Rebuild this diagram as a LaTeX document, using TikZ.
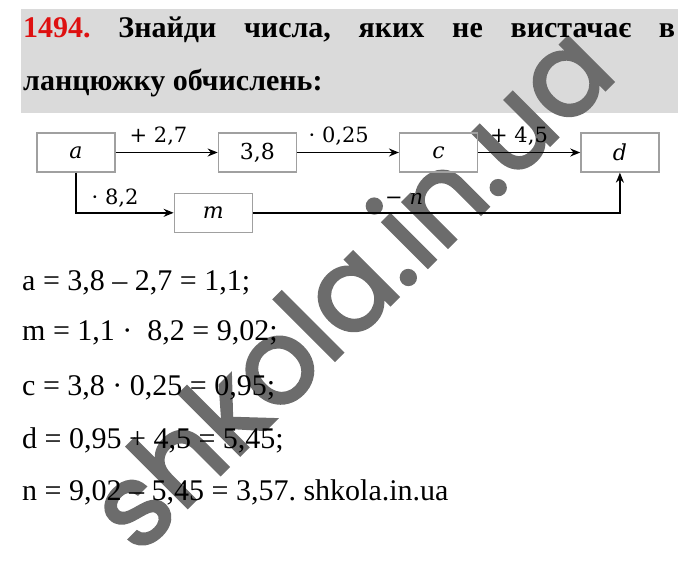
\documentclass[tikz,border=0pt]{standalone}
\usepackage[no-math]{fontspec}
\setmainfont{Liberation Serif}
\newfontfamily\schoolfont{DejaVu Serif}
\newfontfamily\marksans[FakeBold=2.5]{Poppins}
\usepackage{xcolor}
\usepackage{tikz}
\usetikzlibrary{
    arrows.meta,
    positioning
}
\frenchspacing
\definecolor{bandgray}{RGB}{218,218,218}
\definecolor{numred}{RGB}{222,16,16}
\definecolor{boxgray}{RGB}{160,160,160}
\definecolor{markgray}{RGB}{108,108,108}
\tikzstyle{box} = [
    draw=boxgray,
    line width=1.3pt,
    minimum width=78pt,
    minimum height=39pt,
    inner sep=0pt,
    font=\schoolfont\fontsize{22}{26}\selectfont
]
\tikzstyle{arrow} = [
    line width=1.6pt,
    -{Stealth[length=10pt,width=8pt]}
]
\tikzstyle{oplabel} = [
    anchor=base,
    inner sep=0pt,
    font=\schoolfont\fontsize{21}{25}\selectfont
]
\tikzstyle{textline} = [
    anchor=base west,
    inner sep=0pt,
    font=\fontsize{30}{34}\selectfont
]

\begin{document}
\begin{tikzpicture}[x=1pt, y=-1pt, node distance=102pt]
\useasboundingbox (0,0) rectangle (700,566);
% task header
\fill[bandgray] (21,9) rectangle (678,113);

% watermark
\node[anchor=base, inner sep=0pt, rotate=45, text=markgray,
    font=\marksans\fontsize{116}{124}\selectfont] (mark) at (379,316) {shkola.in.ua};

\node[textline, font=\fontsize{30}{34}\selectfont\bfseries] (head1) at (23,37)
    {\makebox[652pt][s]{\textcolor{numred}{1494.} Знайди числа, яких не вистачає в}};
\node[textline, font=\fontsize{30}{34}\selectfont\bfseries] (head2) at (23,90)
    {ланцюжку обчислень:};

% chain of calculations
\node[box] (a) at (76,152.5) {\itshape a};
\node[box, right=of a] (b38) {3,8};
\node[box, right=of b38] (c) {\itshape c};
\node[box, right=of c] (d) {\itshape d};
\node[box, below right=20pt and 58pt of a] (m) {\itshape m};

\draw[arrow] (a) -- node[oplabel, pos=0.42, yshift=10pt] (p27) {+ 2,7} (b38);
\draw[arrow] (b38) -- node[oplabel, pos=0.41, yshift=10pt] (t025) {· 0,25} (c);
\draw[arrow] (c) -- node[oplabel, pos=0.4, yshift=10pt] (p45) {+ 4,5} (d);
\draw[arrow] (a.south) |- node[oplabel, pos=0.7, yshift=8pt] (t82) {· 8,2} (m);
\draw[arrow] (m) -| node[oplabel, pos=0.206, yshift=8pt] (mn) {− \itshape n} (d);

% solution
\node[textline] (eqa) at (22,290) {a = 3,8 – 2,7 = 1,1;};
\node[textline] (eqm) at (22,340) {m = 1,1 ·~ 8,2 = 9,02;};
\node[textline] (eqc) at (22,395) {c = 3,8 · 0,25 = 0,95;};
\node[textline] (eqd) at (22,448) {d = 0,95 + 4,5 = 5,45;};
\node[textline] (eqn) at (22,500) {n = 9,02 – 5,45 = 3,57. shkola.in.ua};
\end{tikzpicture}
\end{document}
